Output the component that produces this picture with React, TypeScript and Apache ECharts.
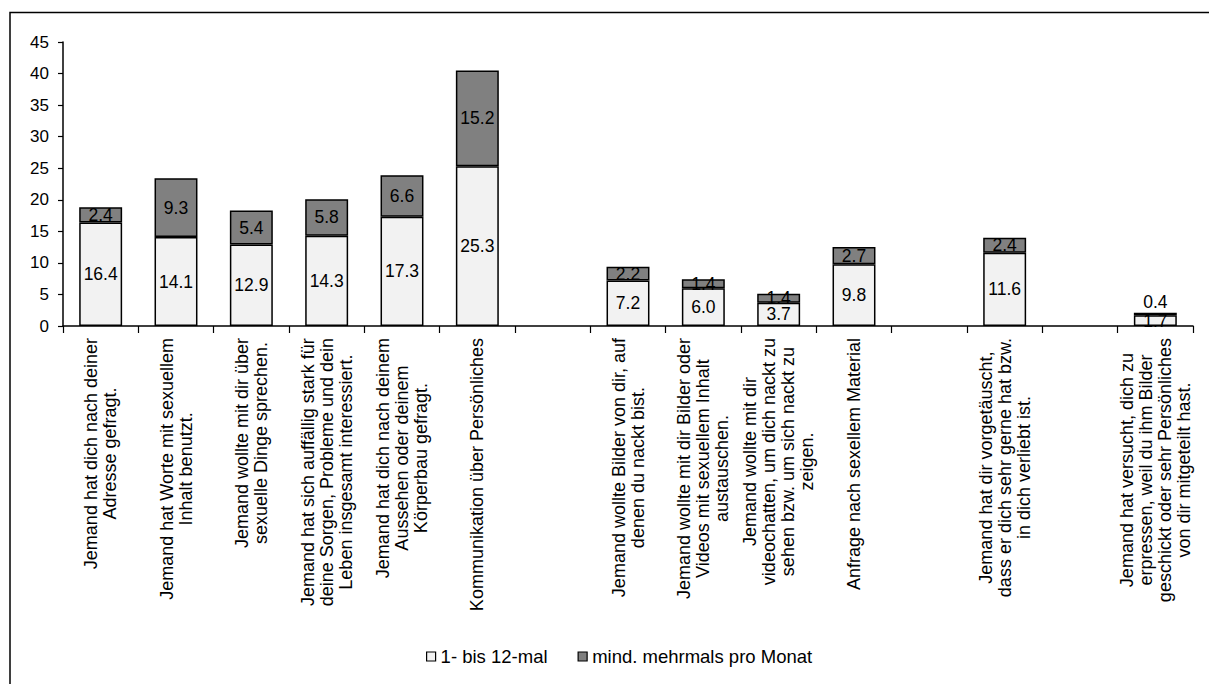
import React, { useEffect, useRef } from "react";
import * as echarts from "echarts";

const categories: string[] = [
  "Jemand hat dich nach deiner\nAdresse gefragt.",
  "Jemand hat Worte mit sexuellem\nInhalt benutzt.",
  "Jemand wollte mit dir über\nsexuelle Dinge sprechen.",
  "Jemand hat sich auffällig stark für\ndeine Sorgen, Probleme und dein\nLeben insgesamt interessiert.",
  "Jemand hat dich nach deinem\nAussehen oder deinem\nKörperbau gefragt.",
  "Kommunikation über Persönliches",
  "",
  "Jemand wollte Bilder von dir, auf\ndenen du nackt bist.",
  "Jemand wollte mit dir Bilder oder\nVideos mit sexuellem Inhalt\naustauschen.",
  "Jemand wollte mit dir\nvideochatten, um dich nackt zu\nsehen bzw. um sich nackt zu\nzeigen.",
  "Anfrage nach sexellem Material",
  "",
  "Jemand hat dir vorgetäuscht,\ndass er dich sehr gerne hat bzw.\nin dich verliebt ist.",
  "",
  "Jemand hat versucht, dich zu\nerpressen, weil du ihm Bilder\ngeschickt oder sehr Persönliches\nvon dir mitgeteilt hast.",
];

const seriesNames: string[] = ["1- bis 12-mal", "mind. mehrmals pro Monat"];
const valuesLow: (number | null)[] = [16.4, 14.1, 12.9, 14.3, 17.3, 25.3, null, 7.2, 6.0, 3.7, 9.8, null, 11.6, null, 1.7];
const valuesHigh: (number | null)[] = [2.4, 9.3, 5.4, 5.8, 6.6, 15.2, null, 2.2, 1.4, 1.4, 2.7, null, 2.4, null, 0.4];
const yTicks = { min: 0, max: 45, interval: 5 };

const FONT = "'Liberation Sans', Arial, sans-serif";

export default function App() {
  const ref = useRef<HTMLDivElement>(null);

  useEffect(() => {
    if (!ref.current) return;
    const chart = echarts.init(ref.current, null, { renderer: "svg" });
    const highData = valuesHigh.map((v) =>
      v !== null && v < 1
        ? { value: v, label: { position: "top" as const, distance: 2 } }
        : v
    );
    const valueLabel = {
      show: true,
      position: "inside" as const,
      color: "#000",
      fontSize: 17.5,
      fontFamily: FONT,
      formatter: (p: any) => (p.value == null ? "" : Number(p.value).toFixed(1)),
    };
    chart.setOption({
      animation: false,
      backgroundColor: "#ffffff",
      textStyle: { fontFamily: FONT },
      graphic: [
        {
          type: "rect",
          shape: { x: 10, y: 12.5, width: 1230, height: 700 },
          style: { fill: "none", stroke: "#000", lineWidth: 1.5 },
          silent: true,
        },
      ],
      legend: {
        top: 647,
        left: 426,
        padding: 0,
        itemWidth: 9,
        itemHeight: 9,
        itemGap: 30,
        textStyle: { fontFamily: FONT, fontSize: 18.5, color: "#000" },
        data: seriesNames.map((n, i) => ({
          name: n,
          icon: "rect",
          itemStyle: { color: i === 0 ? "#f2f2f2" : "#808080", borderColor: "#000", borderWidth: 1.2 },
        })),
      },
      grid: { left: 63, right: 16, top: 42, bottom: 358, containLabel: false },
      xAxis: {
        type: "category",
        data: categories,
        axisLine: { lineStyle: { color: "#000", width: 1.5 } },
        axisTick: { show: true, length: 7, lineStyle: { color: "#000", width: 1.2 } },
        axisLabel: {
          interval: 0,
          rotate: 90,
          margin: 12,
          color: "#000",
          formatter: (v: string) =>
            v
              .split("\n")
              .map((l) => `{c|${l}}`)
              .join("\n"),
          rich: {
            c: { align: "center", fontSize: 18, lineHeight: 19, fontFamily: FONT, color: "#000" },
          },
        },
      },
      yAxis: {
        type: "value",
        min: yTicks.min,
        max: yTicks.max,
        interval: yTicks.interval,
        axisLine: { show: true, lineStyle: { color: "#000", width: 1.5 } },
        axisTick: { show: true, length: 5, lineStyle: { color: "#000", width: 1.2 } },
        axisLabel: { color: "#000", fontSize: 17, fontFamily: FONT, margin: 14 },
        splitLine: { show: false },
      },
      series: [
        {
          name: seriesNames[0],
          type: "bar",
          stack: "total",
          data: valuesLow,
          barWidth: "57%",
          itemStyle: { color: "#f2f2f2", borderColor: "#000", borderWidth: 1.5 },
          label: valueLabel,
        },
        {
          name: seriesNames[1],
          type: "bar",
          stack: "total",
          data: highData,
          barWidth: "57%",
          itemStyle: { color: "#808080", borderColor: "#000", borderWidth: 1.5 },
          label: valueLabel,
        },
      ],
    });
    return () => chart.dispose();
  }, []);

  return (
    <div
      ref={ref}
      style={{ position: "fixed", left: 0, top: 0, width: 1209, height: 684, background: "#fff" }}
    />
  );
}
